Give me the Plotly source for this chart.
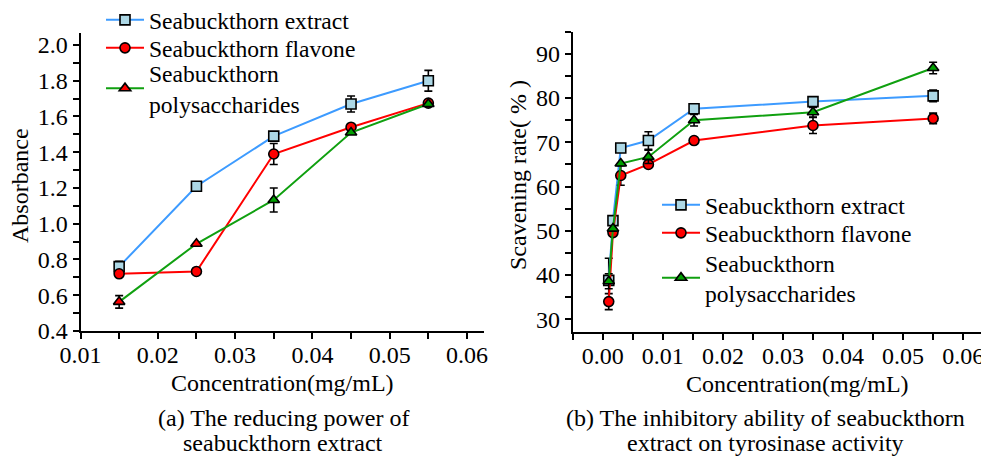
import plotly.graph_objects as go

# The page body keeps its default 8px margin, so the figure is drawn 8px in
# from the top-left; size and positions compensate for that offset.
REF_W, REF_H = 989, 458
OFF = 8
W, H = REF_W - OFF, REF_H - OFF
FONT = "Liberation Serif, Times New Roman, serif"

# ---------- data: panel (a) reducing power ----------
conc_a = [0.015, 0.025, 0.035, 0.045, 0.055]
extract_a = [0.76, 1.21, 1.49, 1.67, 1.80]
extract_a_err = [0.03, 0.0, 0.0, 0.045, 0.058]
flavone_a = [0.72, 0.733, 1.39, 1.54, 1.675]
flavone_a_err = [0.0, 0.0, 0.059, 0.0, 0.0]
poly_a = [0.563, 0.888, 1.133, 1.51, 1.67]
poly_a_err = [0.035, 0.0, 0.067, 0.0, 0.0]
poly_a_fill = ["#ff0000", "#ff0000", "#00a000", "#00a000", "#00a000"]

# ---------- data: panel (b) tyrosinase inhibition ----------
conc_b = [0.001, 0.0017, 0.003, 0.0076, 0.0152, 0.035, 0.055]
extract_b = [38.8, 52.3, 68.7, 70.4, 77.6, 79.2, 80.5]
extract_b_err = [5.0, 0.0, 0.0, 2.0, 0.0, 0.0, 1.3]
flavone_b = [34.0, 49.6, 62.5, 65.0, 70.4, 73.8, 75.4]
flavone_b_err = [1.8, 0.0, 2.2, 0.0, 0.0, 1.8, 1.2]
poly_b = [38.6, 50.5, 65.2, 66.7, 75.0, 76.8, 86.8]
poly_b_err = [1.7, 0.0, 0.0, 1.5, 1.3, 1.1, 1.3]

names = ["Seabuckthorn extract", "Seabuckthorn flavone", "Seabuckthorn<br>polysaccharides"]
line_colors = ["#3d9bff", "#ff0000", "#10a010"]
fill_colors = ["#add8e6", "#ff0000", "#00a000"]
symbols = ["square", "circle", "triangle-up"]


def px(x):
    return (x - OFF) / W


def py(y):
    return 1 - (y - OFF) / H


fig = go.Figure()

# each legend entry gets its own legend box so rows sit where the reference has them
legend_ids = [["legend", "legend2", "legend3"], ["legend4", "legend5", "legend6"]]
legend_x = [101, 657]
legend_top = [[-2, 26, 51], [183, 211, 240.5]]

panels = [
    ("x", "y", conc_a,
     [(extract_a, extract_a_err, fill_colors[0]), (flavone_a, flavone_a_err, fill_colors[1]),
      (poly_a, poly_a_err, poly_a_fill)]),
    ("x2", "y2", conc_b,
     [(extract_b, extract_b_err, fill_colors[0]), (flavone_b, flavone_b_err, fill_colors[1]),
      (poly_b, poly_b_err, fill_colors[2])]),
]

for p, (xa, ya, xs, series) in enumerate(panels):
    for i, (vals, errs, fc) in enumerate(series):
        fig.add_trace(go.Scatter(
            x=xs, y=vals, mode="lines+markers", name=names[i],
            xaxis=xa, yaxis=ya, legend=legend_ids[p][i],
            line=dict(color=line_colors[i], width=2),
            marker=dict(symbol=symbols[i], size=10, color=fc,
                        line=dict(color="black", width=1.6)),
            error_y=dict(type="data", array=errs, visible=True, color="black",
                         thickness=1.6, width=4),
        ))

TICKFONT = dict(family=FONT, size=24, color="black")
minor_common = dict(ticks="outside", ticklen=6, tickwidth=1.6, tickcolor="black")
axis_common = dict(
    showgrid=False, zeroline=False, showline=True, linecolor="black", linewidth=2,
    ticks="outside", ticklen=6, tickwidth=1.6, tickcolor="black",
    tickfont=TICKFONT, automargin=False,
)

layout = dict(
    width=W, height=H,
    margin=dict(l=0, r=0, t=0, b=0, autoexpand=False),
    paper_bgcolor="white", plot_bgcolor="white",
    font=dict(family=FONT, size=24, color="black"),
    xaxis=dict(domain=[px(80.5), px(484)], range=[0.01, 0.0622], anchor="y",
               tick0=0.01, dtick=0.01, tickformat=".2f", ticklabelstandoff=-5,
               minor=dict(dtick=0.005, **minor_common), **axis_common),
    yaxis=dict(domain=[py(331), py(33)], range=[0.4, 2.067], anchor="x",
               tick0=0.4, dtick=0.2, tickformat=".1f",
               minor=dict(dtick=0.1, **minor_common), **axis_common),
    xaxis2=dict(domain=[px(572.7), 1.0], range=[-0.005, 0.0643], anchor="y2",
                tick0=0, dtick=0.01, tickformat=".2f", ticklabelstandoff=-5,
                minor=dict(dtick=0.005, **minor_common), **axis_common),
    yaxis2=dict(domain=[py(331.7), py(31.7)], range=[27.2, 95], anchor="x2",
                tick0=30, dtick=10,
                minor=dict(dtick=5, **minor_common), **axis_common),
    showlegend=True,
)
for p in range(2):
    for i in range(3):
        layout[legend_ids[p][i]] = dict(
            x=px(legend_x[p]), y=py(legend_top[p][i]), xanchor="left", yanchor="top",
            bgcolor="rgba(0,0,0,0)", font=dict(family=FONT, size=23.6, color="black"),
            itemwidth=38, tracegroupgap=0, valign="middle")
fig.update_layout(**layout)

annotations = [
    ("Concentration(mg/mL)", 282.5, 383, 0),
    ("(a) The reducing power of", 283, 418, 0),
    ("seabuckthorn extract", 283, 443, 0),
    ("Concentration(mg/mL)", 797.5, 384, 0),
    ("(b) The inhibitory ability of seabuckthorn", 765, 418, 0),
    ("extract on tyrosinase activity", 765, 443, 0),
    ("Absorbance", 20, 186, -90),
    ("Scavening rate( % )", 518, 175, -90),
]
for text, x, y, ang in annotations:
    fig.add_annotation(text=text, x=px(x), y=py(y), xref="paper", yref="paper",
                       xanchor="center", yanchor="middle", showarrow=False, textangle=ang,
                       font=dict(family=FONT, size=24, color="black"))

fig.write_html("out.html")
